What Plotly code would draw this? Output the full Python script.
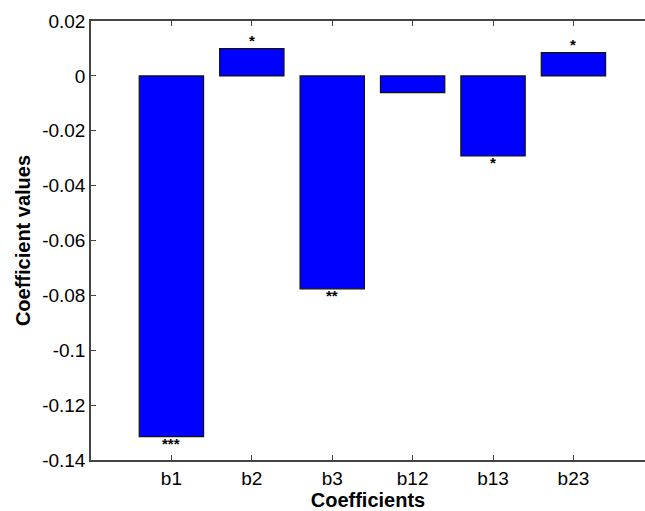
import plotly.graph_objects as go

categories = ["b1", "b2", "b3", "b12", "b13", "b23"]
values = [-0.1315, 0.0099, -0.0776, -0.0061, -0.0292, 0.0085]
significance = ["***", "*", "**", "", "*", "*"]
y_ticks = [0.02, 0, -0.02, -0.04, -0.06, -0.08, -0.1, -0.12, -0.14]
y_ticktext = ["0.02", "0", "-0.02", "-0.04", "-0.06", "-0.08", "-0.1", "-0.12", "-0.14"]

positions = list(range(1, len(categories) + 1))

fig = go.Figure()
fig.add_trace(go.Bar(
    x=positions, y=values, width=0.8,
    marker=dict(color="#0000FF", line=dict(color="#111111", width=1.2)),
    showlegend=False,
))

for p, v, s in zip(positions, values, significance):
    if not s:
        continue
    fig.add_annotation(
        x=p, y=v, text="<b>" + s + "</b>", showarrow=False,
        yanchor="bottom" if v > 0 else "top",
        yshift=-2 if v > 0 else 4,
        font=dict(family="Liberation Sans, Arial", size=15, color="black"),
    )

axis_font = dict(family="Liberation Sans, Arial", size=19, color="black")
fig.update_layout(
    width=645, height=511,
    margin=dict(l=91, r=0, t=21, b=51),
    plot_bgcolor="white", paper_bgcolor="white",
    bargap=0.2,
    xaxis=dict(
        range=[0, 6.89], tickmode="array", tickvals=positions, ticktext=categories,
        ticks="inside", ticklen=5, tickcolor="#444", showline=True, linecolor="#444",
        linewidth=1.5, mirror="ticks", showgrid=False, zeroline=False,
        tickfont=axis_font,
        title=dict(text="<b>Coefficients</b>", font=dict(family="Liberation Sans, Arial", size=20, color="black"), standoff=4),
    ),
    yaxis=dict(
        range=[-0.14, 0.02], tickmode="array", tickvals=y_ticks, ticktext=y_ticktext,
        ticks="inside", ticklen=5, tickcolor="#444", showline=True, linecolor="#444",
        linewidth=1.5, showgrid=False, zeroline=False,
        tickfont=axis_font,
        title=dict(text="<b>Coefficient values</b>", font=dict(family="Liberation Sans, Arial", size=20, color="black"), standoff=6),
    ),
)

fig.write_html(
    "out.html",
    config={"displayModeBar": False},
    post_script="document.body.style.margin='0';document.body.style.overflow='hidden';",
)
